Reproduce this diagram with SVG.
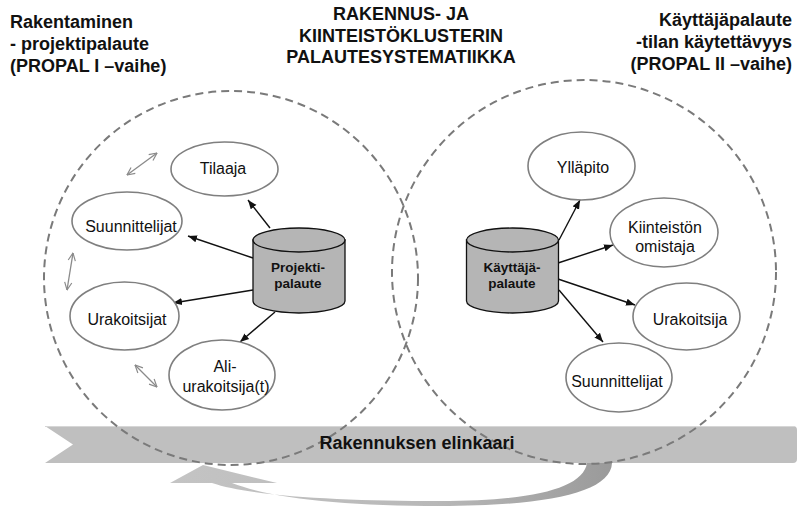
<svg xmlns="http://www.w3.org/2000/svg" width="797" height="507" viewBox="0 0 797 507">
<style>
.title{font-family:"Liberation Sans",Arial,sans-serif;font-weight:bold;font-size:18px;fill:#111}
.lbl{font-family:"Liberation Sans",Arial,sans-serif;font-size:16px;fill:#111;text-anchor:middle}
.cyl{font-family:"Liberation Sans",Arial,sans-serif;font-weight:bold;font-size:13.5px;fill:#111;text-anchor:middle}
.ell{fill:#fff;stroke:#7f7f7f;stroke-width:1.6}
.cylf{fill:#b5b5b5;stroke:#111;stroke-width:1.3}
.zone{fill:none;stroke:#7a7a7a;stroke-width:2;stroke-dasharray:8 5}
.arr{stroke:#111;stroke-width:1.4;fill:none;marker-end:url(#ah)}
.dbl{stroke:#8a8a8a;stroke-width:1.3;fill:none;marker-start:url(#oh);marker-end:url(#oh)}
</style>
<defs>
<marker id="ah" viewBox="0 0 10 10" refX="10" refY="5" markerWidth="9" markerHeight="9" markerUnits="userSpaceOnUse" orient="auto">
<path d="M0,1 L10,5 L0,9 Z" fill="#111"/>
</marker>
<marker id="oh" viewBox="0 0 10 10" refX="9.5" refY="5" markerWidth="9" markerHeight="9" markerUnits="userSpaceOnUse" orient="auto-start-reverse">
<path d="M1,1 L9.5,5 L1,9" fill="none" stroke="#8a8a8a" stroke-width="1.3"/>
</marker>
<linearGradient id="ret" x1="170" y1="0" x2="612" y2="0" gradientUnits="userSpaceOnUse">
<stop offset="0" stop-color="#c4c4c4"/>
<stop offset="0.6" stop-color="#b8b8b8"/>
<stop offset="1" stop-color="#9a9a9a"/>
</linearGradient>
</defs>
<rect width="797" height="507" fill="#fff"/>

<g id="lifecycle">
<path d="M45,426 L793,426 Q797,426 797,430 L797,459 Q797,463 793,463 L45,463 L73,444.5 Z" fill="#bfbfbf"/>
<line x1="45" y1="426.5" x2="795" y2="426.5" stroke="#d6d6d6" stroke-width="1"/>
<path d="M587,463 L612,463 C611,493 545,506 440,506 C345,506 270,498 232,483 L277,483 L203,465 L170,483 L212,483 C250,496 340,501 440,501 C530,501 583,489 587,463 Z" fill="url(#ret)"/>
</g>

<g id="zones">
<circle cx="231" cy="278" r="187" class="zone"/>
<circle cx="584" cy="272" r="192" class="zone"/>
</g>

<text class="title" x="417" y="449" text-anchor="middle" font-size="18.5">Rakennuksen elinkaari</text>

<g id="titles">
<text class="title" x="10" y="28">Rakentaminen</text>
<text class="title" x="10" y="50">- projektipalaute</text>
<text class="title" x="10" y="72">(PROPAL I –vaihe)</text>
<text class="title" x="401" y="20" text-anchor="middle">RAKENNUS- JA</text>
<text class="title" x="401" y="42" text-anchor="middle">KIINTEISTÖKLUSTERIN</text>
<text class="title" x="401" y="63" text-anchor="middle">PALAUTESYSTEMATIIKKA</text>
<text class="title" x="792" y="26" text-anchor="end">Käyttäjäpalaute</text>
<text class="title" x="792" y="48" text-anchor="end">-tilan käytettävyys</text>
<text class="title" x="792" y="70" text-anchor="end">(PROPAL II –vaihe)</text>
</g>

<g id="connectors">
<line class="arr" x1="270" y1="228" x2="248" y2="200"/>
<line class="arr" x1="253" y1="258" x2="188" y2="236"/>
<line class="arr" x1="253" y1="290" x2="173" y2="303"/>
<line class="arr" x1="275" y1="312" x2="240" y2="342"/>
<line class="arr" x1="559" y1="240" x2="580" y2="200"/>
<line class="arr" x1="558" y1="263" x2="613" y2="245"/>
<line class="arr" x1="558" y1="279" x2="635" y2="305"/>
<line class="arr" x1="559" y1="290" x2="603" y2="342"/>
<line class="dbl" x1="127" y1="175" x2="157" y2="153"/>
<line class="dbl" x1="73" y1="253" x2="67" y2="290"/>
<line class="dbl" x1="135" y1="365" x2="157" y2="387"/>
</g>

<g id="tilaaja">
<ellipse class="ell" cx="224.5" cy="169" rx="53.5" ry="27"/>
<text class="lbl" x="223" y="174">Tilaaja</text>
</g>
<g id="suunnittelijat1">
<ellipse class="ell" cx="127" cy="221" rx="55" ry="29"/>
<text class="lbl" x="131" y="232">Suunnittelijat</text>
</g>
<g id="urakoitsijat">
<ellipse class="ell" cx="124.5" cy="316" rx="54.5" ry="34"/>
<text class="lbl" x="127" y="325">Urakoitsijat</text>
</g>
<g id="aliurakoitsijat">
<ellipse class="ell" cx="222" cy="375" rx="53" ry="35"/>
<text class="lbl" x="225" y="372">Ali-</text>
<text class="lbl" x="226" y="392">urakoitsija(t)</text>
</g>
<g id="projektipalaute">
<path class="cylf" d="M253,240 V301 A46,12 0 0 0 345,301 V240 Z"/>
<ellipse class="cylf" cx="299" cy="240" rx="46" ry="12"/>
<text class="cyl" x="298" y="272">Projekti-</text>
<text class="cyl" x="298" y="288">palaute</text>
</g>

<g id="yllapito">
<ellipse class="ell" cx="581.5" cy="166" rx="53.5" ry="34"/>
<text class="lbl" x="583" y="173">Ylläpito</text>
</g>
<g id="kiinteistonomistaja">
<ellipse class="ell" cx="664" cy="232.5" rx="54" ry="34.5"/>
<text class="lbl" x="665" y="233">Kiinteistön</text>
<text class="lbl" x="665" y="252">omistaja</text>
</g>
<g id="urakoitsija">
<ellipse class="ell" cx="686.5" cy="316.5" rx="53.5" ry="33.5"/>
<text class="lbl" x="690" y="325">Urakoitsija</text>
</g>
<g id="suunnittelijat2">
<ellipse class="ell" cx="619" cy="377.5" rx="53" ry="34.5"/>
<text class="lbl" x="617" y="387">Suunnittelijat</text>
</g>
<g id="kayttajapalaute">
<path class="cylf" d="M466.5,240 V301 A46,12 0 0 0 558.5,301 V240 Z"/>
<ellipse class="cylf" cx="512.5" cy="240" rx="46" ry="12"/>
<text class="cyl" x="512" y="272">Käyttäjä-</text>
<text class="cyl" x="512" y="288">palaute</text>
</g>
</svg>
